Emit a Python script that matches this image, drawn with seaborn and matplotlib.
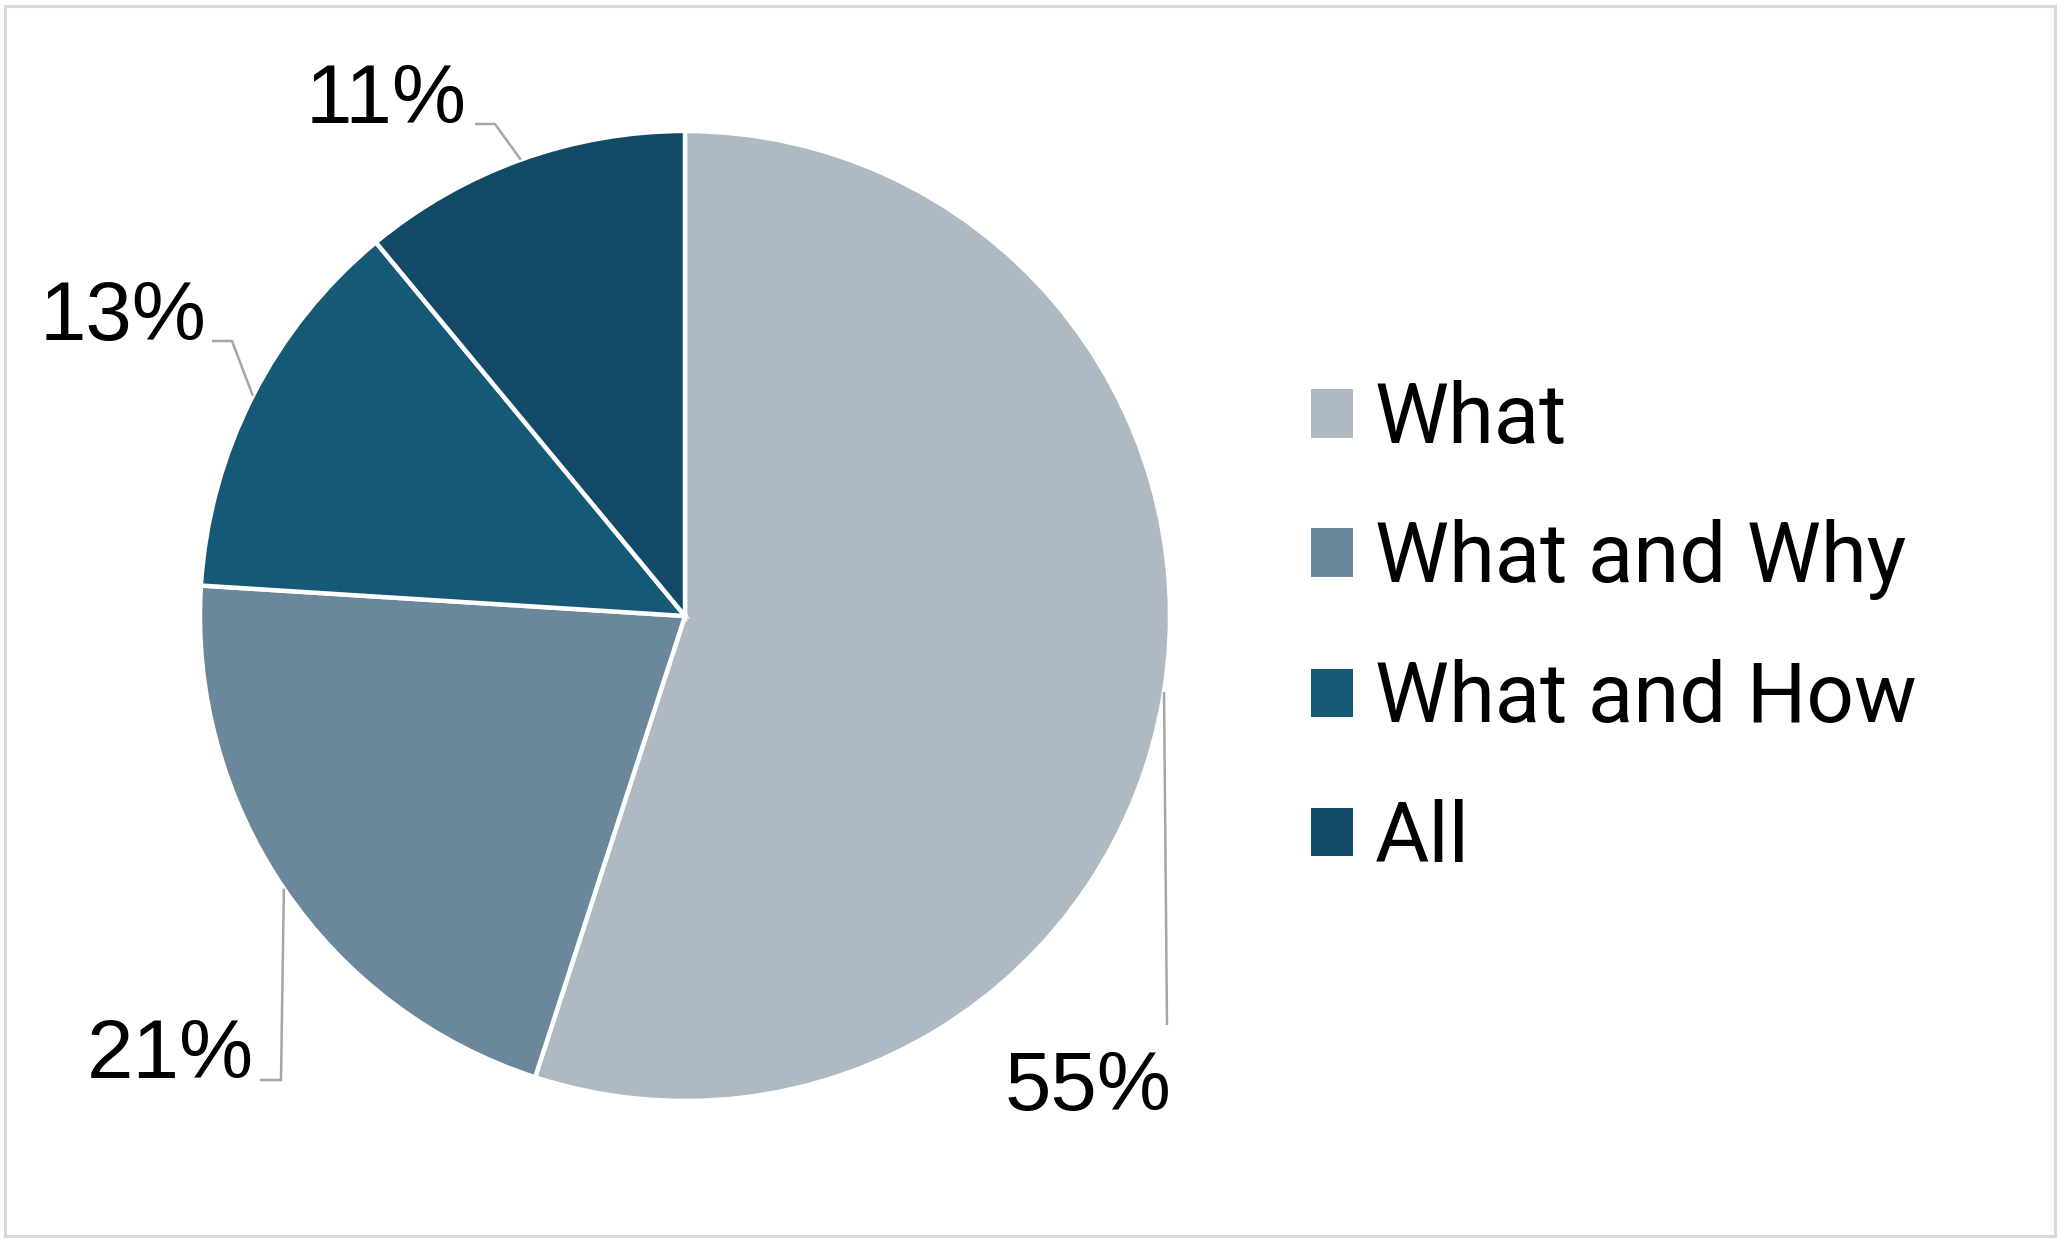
import matplotlib
matplotlib.use("Agg")
import matplotlib.pyplot as plt
from matplotlib.patches import Rectangle
import numpy as np
import seaborn as sns

# Data
lstCategories = ["What", "What and Why", "What and How", "All"]
lstShares = [55, 21, 13, 11]
lstColors = ["#AEB9C4", "#6A879B", "#165977", "#124966"]

# Label layout (pixel coords, y from top): text centre and leader elbow
lstLabelPos = [(1088, 1088), (170, 1056), (123, 318), (386, 101)]
lstElbow = [(1167, 1025), (281, 1080), (232, 341), (495, 124)]
lstLineEnd = [(1167, 1025), (260, 1080), (212, 341), (475, 124)]

W, H = 2062, 1242
fCx, fCy, fR = 685, 616, 485

sns.set_theme(style="white")
plt.rcParams["font.family"] = ["Liberation Sans", "DejaVu Sans"]

fig = plt.figure(figsize=(W / 100, H / 100), dpi=100)
fig.patch.set_facecolor("white")
ax = fig.add_axes([0, 0, 1, 1])

palette = sns.color_palette(lstColors)
wedges, _ = ax.pie(
	lstShares,
	colors=palette,
	startangle=90,
	counterclock=False,
	center=(fCx, H - fCy),
	radius=fR,
	wedgeprops={"edgecolor": "white", "linewidth": 3.2},
)
ax.set_xlim(0, W)
ax.set_ylim(0, H)
ax.set_aspect("equal")
ax.axis("off")

# Percentage labels with leader lines from wedge mid-angle
fTotal = sum(lstShares)
fAngle = 90.0
for i, fVal in enumerate(lstShares):
	fSpan = 360.0 * fVal / fTotal
	fMid = np.deg2rad(fAngle - fSpan / 2)
	fAngle -= fSpan
	fEx = fCx + fR * np.cos(fMid)
	fEy = fCy - fR * np.sin(fMid)
	lstX = [fEx, lstElbow[i][0], lstLineEnd[i][0]]
	lstY = [H - fEy, H - lstElbow[i][1], H - lstLineEnd[i][1]]
	ax.plot(lstX, lstY, color="#A6A6A6", linewidth=1.8, solid_capstyle="butt")
	tx, ty = lstLabelPos[i]
	ax.text(tx, H - ty, f"{fVal}%", ha="center", va="center",
		fontsize=60, color="black")

# Legend
fFs = 60
fPx = fFs * 100 / 72
leg = ax.legend(
	wedges, lstCategories,
	loc="upper left",
	bbox_to_anchor=(1311 / W, 1 - 380 / H),
	bbox_transform=fig.transFigure,
	frameon=False,
	prop={"family": ["Roboto", "DejaVu Sans"], "size": fFs},
	labelcolor="black",
	handlelength=42 / fPx,
	handleheight=43 / fPx,
	handletextpad=22 / fPx,
	labelspacing=0.71,
	borderpad=0,
	borderaxespad=0,
)
for oH in leg.legend_handles:
	oH.set_edgecolor("none")

# Outer border
fig.patches.append(Rectangle((5 / W, 6 / H), 2050 / W, 1230 / H,
	transform=fig.transFigure, fill=False, edgecolor="#D9D9D9", linewidth=2.2))

fig.savefig("out.png", dpi=100)
plt.close(fig)
